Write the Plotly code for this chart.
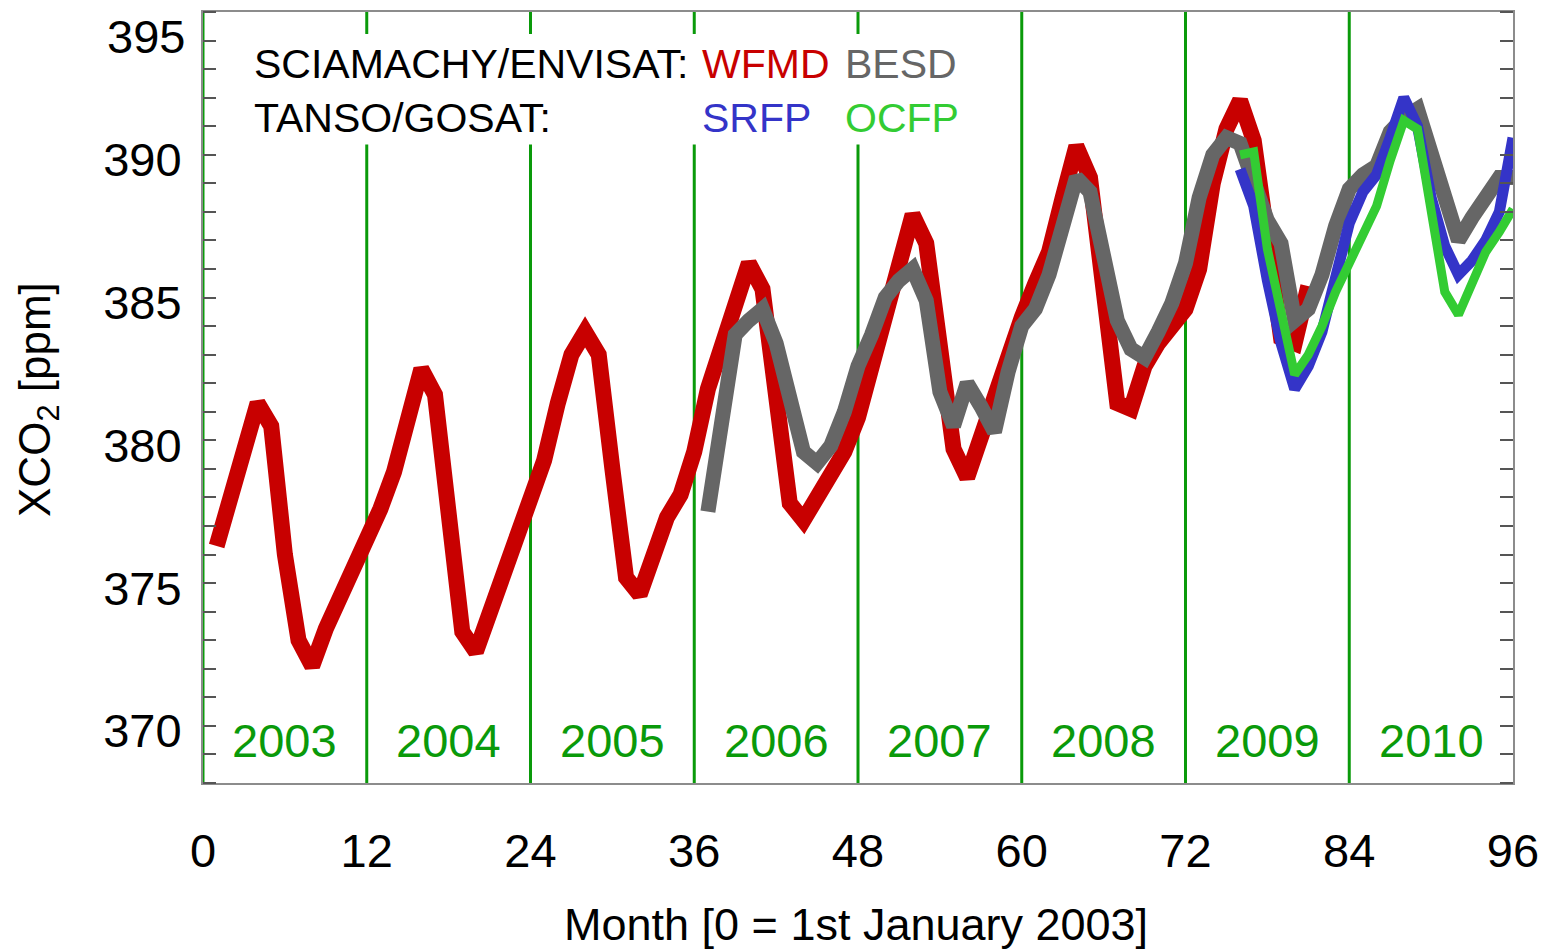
import plotly.graph_objects as go

# month index (0 = 1st January 2003) and XCO2 [ppm]
wfmd_month = list(range(1, 82))
wfmd_xco2 = [
    376.3, 378.0, 380.0, 381.3, 380.5, 376.0, 373.0, 372.1, 373.4, 374.4, 375.6, 376.4,
    377.6, 378.9, 380.8, 382.5, 381.6, 377.5, 373.3, 372.6, 374.0, 375.3, 376.4, 378.0,
    379.3, 381.3, 383.0, 383.8, 383.0, 379.0, 375.2, 374.6, 376.0, 377.3, 378.1, 379.6,
    381.8, 383.2, 385.0, 386.2, 385.3, 381.5, 377.8, 377.2, 378.0, 378.8, 379.6, 380.8,
    382.6, 384.0, 386.0, 387.9, 386.9, 382.8, 379.7, 378.7, 380.2, 381.5, 383.0, 384.3,
    385.5, 386.6, 388.5, 390.3, 389.2, 385.0, 381.3, 381.1, 382.6, 383.4, 384.0, 384.6,
    386.0, 389.0, 390.9, 391.9, 390.5, 386.5, 383.6, 383.4, 385.4,
]

besd_month = list(range(37, 97))
besd_xco2 = [
    377.5, 380.8, 383.7, 384.2, 384.6, 383.4, 381.2, 379.6, 379.2, 379.8, 381.0,
    382.6, 383.7, 385.0, 385.6, 386.0, 384.9, 381.7, 380.5, 382.0, 381.2, 380.3, 382.4,
    384.0, 384.6, 385.8, 387.5, 389.2, 388.7, 386.3, 384.2, 383.2, 382.9, 383.8, 384.8,
    386.2, 388.5, 390.0, 390.6, 390.4, 389.0, 387.7, 386.9, 384.2, 384.6, 385.8, 387.5,
    388.8, 389.3, 389.6, 390.8, 391.3, 391.6, 390.0, 388.2, 387.0, 387.8, 388.6, 389.2,
    389.2,
]

srfp_month = list(range(76, 97))
srfp_xco2 = [
    389.5, 388.2, 385.6, 383.4, 381.8, 382.6, 383.8, 385.6, 387.6, 388.7, 389.3,
    390.6, 392.0, 391.0, 388.5, 386.8, 385.8, 386.3, 387.0, 388.0, 390.6,
]

ocfp_month = list(range(76, 97))
ocfp_xco2 = [
    390.0, 390.1, 386.7, 384.3, 382.3, 383.0, 384.0, 385.2, 386.2, 387.2, 388.2,
    389.8, 391.2, 390.9, 388.0, 385.2, 384.4, 385.6, 386.6, 387.3, 388.1,
]

year_start = [0, 12, 24, 36, 48, 60, 72, 84]
year_label = ["2003", "2004", "2005", "2006", "2007", "2008", "2009", "2010"]
x_ticks = [0, 12, 24, 36, 48, 60, 72, 84, 96]
y_ticks = [370, 375, 380, 385, 390]

FONT = "Liberation Sans, Arial, Helvetica, sans-serif"
RED = "#c80000"
GRAY = "#666666"
BLUE = "#3434c8"
LGREEN = "#33cc33"
DGREEN = "#0a9a0a"

fig = go.Figure()

fig.add_trace(go.Scatter(x=wfmd_month, y=wfmd_xco2, mode="lines",
                         line=dict(color=RED, width=16), showlegend=False))
fig.add_trace(go.Scatter(x=besd_month, y=besd_xco2, mode="lines",
                         line=dict(color=GRAY, width=15), showlegend=False))
fig.add_trace(go.Scatter(x=srfp_month, y=srfp_xco2, mode="lines",
                         line=dict(color=BLUE, width=11), showlegend=False))
fig.add_trace(go.Scatter(x=ocfp_month, y=ocfp_xco2, mode="lines",
                         line=dict(color=LGREEN, width=9), showlegend=False))
# dummy trace so the mirrored right axis gets drawn
fig.add_trace(go.Scatter(x=[None], y=[None], yaxis="y2", showlegend=False))

# year separators (gaps where the legend text sits)
for i, m in enumerate(year_start):
    if 1 <= i <= 4:
        segs = [(0, 0.828), (0.9715, 1)]
    else:
        segs = [(0, 1)]
    for y0, y1 in segs:
        fig.add_shape(type="line", xref="x", yref="y domain", x0=m, x1=m, y0=y0, y1=y1,
                      line=dict(color=DGREEN, width=3), layer="below")

for m, lab in zip(year_start, year_label):
    fig.add_annotation(x=m + 6, y=369.5, text=lab, showarrow=False,
                       xanchor="center", yanchor="middle",
                       font=dict(family=FONT, size=47, color=DGREEN))

# legend text
legend_rows = [
    (0.933, "SCIAMACHY/ENVISAT:", [("WFMD", RED, 0.3794), ("BESD", GRAY, 0.4885)]),
    (0.862, "TANSO/GOSAT:", [("SRFP", BLUE, 0.3794), ("OCFP", LGREEN, 0.4885)]),
]
for yy, head, items in legend_rows:
    fig.add_annotation(x=0.0374, y=yy, xref="paper", yref="paper", text=head,
                       showarrow=False, xanchor="left", yanchor="middle",
                       font=dict(family=FONT, size=41, color="black"))
    for txt, col, xx in items:
        fig.add_annotation(x=xx, y=yy, xref="paper", yref="paper", text=txt,
                           showarrow=False, xanchor="left", yanchor="middle",
                           font=dict(family=FONT, size=41, color=col))

# top y label sits below its tick in the original
fig.add_annotation(x=-0.012, y=0.968, xref="paper", yref="paper", text="395",
                   showarrow=False, xanchor="right", yanchor="middle",
                   font=dict(family=FONT, size=47, color="black"))

fig.add_annotation(x=-0.126, y=0.498, xref="paper", yref="paper",
                   text="XCO<sub>2</sub> [ppm]", textangle=-90, showarrow=False,
                   xanchor="center", yanchor="middle",
                   font=dict(family=FONT, size=44, color="black"))
fig.add_annotation(x=0.4985, y=-0.184, xref="paper", yref="paper",
                   text="Month [0 = 1st January 2003]", showarrow=False,
                   xanchor="center", yanchor="middle",
                   font=dict(family=FONT, size=45, color="black"))

# page body has an 8px margin, so the figure is a bit smaller than the window
fig.update_layout(
    width=1542, height=944,
    margin=dict(l=195, r=37, t=2, b=169),
    paper_bgcolor="white", plot_bgcolor="white",
    font=dict(family=FONT, size=47, color="black"),
    xaxis=dict(range=[0, 96], tickvals=x_ticks, ticks="", showgrid=False,
               zeroline=False, showline=True, linecolor="#8c8c8c", linewidth=2,
               mirror=True, ticklabelstandoff=26,
               tickfont=dict(family=FONT, size=47, color="black")),
    yaxis=dict(range=[368, 395], tickvals=y_ticks, ticks="", showgrid=False,
               zeroline=False, showline=True, linecolor="#8c8c8c", linewidth=2,
               mirror=True, ticklabelstandoff=10, ticklabelshift=5,
               minor=dict(dtick=1, tick0=0, ticks="inside", ticklen=13,
                          tickcolor="#555555", tickwidth=2, showgrid=False),
               tickfont=dict(family=FONT, size=47, color="black")),
    yaxis2=dict(range=[368, 395], overlaying="y", side="right", showgrid=False,
                zeroline=False, showticklabels=False, tickvals=y_ticks, ticks="",
                minor=dict(dtick=1, tick0=0, ticks="inside", ticklen=13,
                           tickcolor="#555555", tickwidth=2, showgrid=False)),
)

fig.write_html("out.html")
